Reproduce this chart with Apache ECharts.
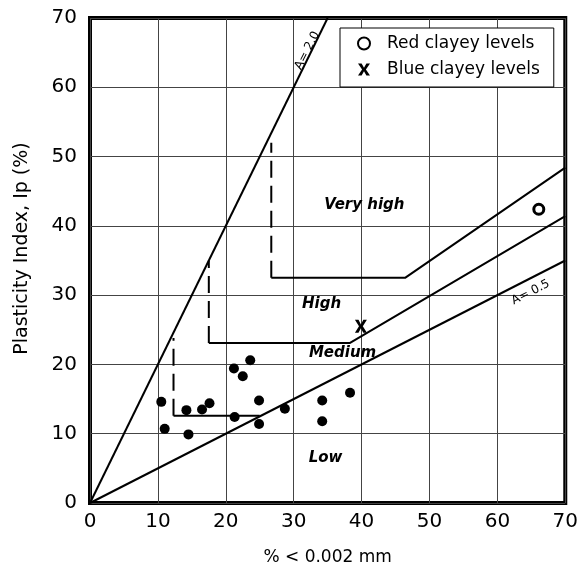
<!DOCTYPE html>
<html>
<head>
<meta charset="utf-8">
<script src="https://cdn.jsdelivr.net/npm/echarts@6/dist/echarts.min.js"></script>
<style>
  html, body { margin: 0; padding: 0; background: #fff; }
  #chart { width: 581px; height: 576px; }
</style>
</head>
<body>
<div id="chart"></div>
<script>
// measured points (% < 0.002 mm, Ip %)
var samplePoints = [
  [10.5, 14.6], [11.0, 10.7], [14.2, 13.4], [14.5, 9.9], [16.5, 13.5],
  [17.6, 14.4], [21.2, 19.4], [22.5, 18.3], [23.6, 20.6], [21.3, 12.4],
  [24.9, 14.8], [24.9, 11.4], [28.7, 13.6], [34.2, 14.8], [34.2, 11.8],
  [38.3, 15.9]
];
var redPoints = [[66.1, 42.4]];
var bluePoints = [[39.9, 25.5]];

// activity lines
var lineA20 = [[0, 0], [35, 70]];
var lineA05 = [[0, 0], [70, 35]];

// class boundaries (solid part, then dashed vertical part)
var upperSolid = [[26.7, 32.5], [46.4, 32.5], [70, 48.4]];
var upperDash = [[26.7, 32.5], [26.7, 52]];
var middleSolid = [[17.5, 23.1], [38.3, 23.1], [70, 41.4]];
var middleDash = [[17.5, 23.1], [17.5, 35]];
var lowerSolid = [[12.3, 12.6], [25, 12.6]];
var lowerDash = [[12.3, 12.6], [12.3, 23.8]];

// zone names and their positions
var zoneNames = ["Very high", "High", "Medium", "Low"];
var zonePos = [[40.4, 43.0], [34.1, 28.7], [37.2, 21.6], [34.7, 6.5]];

var lineNames = ["A= 2.0", "A= 0.5"];
var lineNamePos = [[32.0, 65.3], [64.9, 30.4]];
var lineNameRot = [63, 27];

var FONT = "DejaVu Sans";
var xSymbol = "path://M0,0L3,0L5,3.6L7,0L10,0L6.6,5L10,10L7,10L5,6.4L3,10L0,10L3.4,5Z";

function boundary(data, dashed) {
  return {
    type: "line",
    data: data,
    symbol: "none",
    silent: true,
    lineStyle: { color: "#000", width: 2, type: dashed ? [17, 8] : "solid" },
    z: 3
  };
}

var zoneData = zoneNames.map(function (n, i) {
  return { value: zonePos[i], name: n };
});
var lineLabelData = lineNames.map(function (n, i) {
  return { value: lineNamePos[i], name: n, label: { rotate: lineNameRot[i] } };
});

var chart = echarts.init(document.getElementById("chart"));
chart.setOption({
  animation: false,
  grid: {
    left: 90, right: 15, top: 18, bottom: 73,
    show: true, borderColor: "#000", borderWidth: 4
  },
  legend: {
    orient: "vertical",
    left: 340, top: 28,
    data: ["Red clayey levels", "Blue clayey levels"],
    borderColor: "#000", borderWidth: 1,
    padding: [7, 14, 9, 17],
    itemWidth: 12, itemHeight: 12, itemGap: 9,
    textStyle: { fontFamily: FONT, fontSize: 17, color: "#000", lineHeight: 12, padding: [0, 0, 0, 12] },
    backgroundColor: "#fff"
  },
  xAxis: {
    type: "value", min: 0, max: 70, interval: 10,
    name: "% < 0.002 mm", nameLocation: "middle", nameGap: 46,
    nameTextStyle: { fontFamily: FONT, fontSize: 17, color: "#000" },
    axisLine: { show: false }, axisTick: { show: false },
    axisLabel: { fontFamily: FONT, fontSize: 20, color: "#000", margin: 9 },
    splitLine: { lineStyle: { color: "#444", width: 1 } }
  },
  yAxis: {
    type: "value", min: 0, max: 70, interval: 10,
    name: "Plasticity Index, Ip (%)", nameLocation: "middle", nameGap: 58,
    nameTextStyle: { fontFamily: FONT, fontSize: 19, color: "#000", padding: [0, 0, 0, 24] },
    axisLine: { show: false }, axisTick: { show: false },
    axisLabel: { fontFamily: FONT, fontSize: 20, color: "#000", margin: 13 },
    splitLine: { lineStyle: { color: "#444", width: 1 } }
  },
  series: [
    {
      type: "line", data: lineA20, symbol: "none", silent: true,
      lineStyle: { color: "#000", width: 2 }, z: 3
    },
    {
      type: "line", data: lineA05, symbol: "none", silent: true,
      lineStyle: { color: "#000", width: 2 }, z: 3
    },
    boundary(upperSolid, false),
    boundary(upperDash, true),
    boundary(middleSolid, false),
    boundary(middleDash, true),
    boundary(lowerSolid, false),
    boundary(lowerDash, true),
    {
      name: "samples", type: "scatter", data: samplePoints,
      symbol: "circle", symbolSize: 10,
      itemStyle: { color: "#000", opacity: 1 }, z: 5
    },
    {
      name: "Red clayey levels", type: "scatter", data: redPoints,
      symbol: "circle", symbolSize: 10,
      itemStyle: { color: "#fff", borderColor: "#000", borderWidth: 3, opacity: 1 }, z: 5
    },
    {
      name: "Blue clayey levels", type: "scatter", data: bluePoints,
      symbol: xSymbol, symbolSize: [12, 13],
      itemStyle: { color: "#000", opacity: 1 }, z: 5
    },
    {
      type: "scatter", data: zoneData, symbolSize: 0, silent: true, z: 6,
      itemStyle: { opacity: 1 },
      label: {
        show: true, position: "inside", formatter: "{b}", opacity: 1,
        fontFamily: FONT, fontSize: 15, fontWeight: "bold", fontStyle: "italic", color: "#000"
      }
    },
    {
      type: "scatter", data: lineLabelData, symbolSize: 0, silent: true, z: 6,
      itemStyle: { opacity: 1 },
      label: {
        show: true, position: "inside", formatter: "{b}", opacity: 1,
        fontFamily: FONT, fontSize: 12, color: "#000"
      }
    }
  ]
});
</script>
</body>
</html>
